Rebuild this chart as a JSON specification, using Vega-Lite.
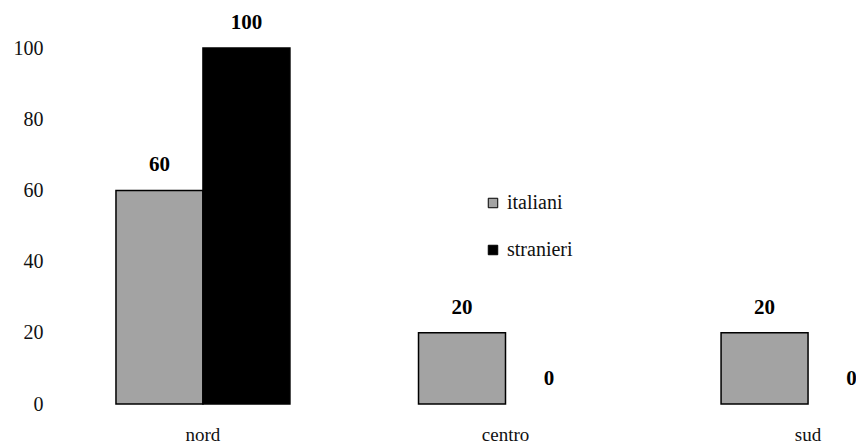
{
  "$schema": "https://vega.github.io/schema/vega-lite/v6.json",
  "autosize": "none",
  "padding": {"left": 60, "top": 48, "right": 0, "bottom": 44},
  "width": 796,
  "height": 356,
  "background": "white",
  "config": {
    "font": "Liberation Serif",
    "view": {"stroke": null},
    "axis": {"grid": false, "domain": false, "ticks": false, "labelColor": "#111", "labelFont": "Liberation Serif"}
  },
  "data": {
    "values": [
      {"zona": "nord", "gruppo": "italiani", "valore": 60},
      {"zona": "nord", "gruppo": "stranieri", "valore": 100},
      {"zona": "centro", "gruppo": "italiani", "valore": 20},
      {"zona": "centro", "gruppo": "stranieri", "valore": 0},
      {"zona": "sud", "gruppo": "italiani", "valore": 20},
      {"zona": "sud", "gruppo": "stranieri", "valore": 0}
    ]
  },
  "encoding": {
    "x": {
      "field": "zona", "type": "nominal", "sort": ["nord", "centro", "sud"],
      "scale": {"range": [0, 891], "paddingInner": 0.425, "paddingOuter": 0.185},
      "axis": {"title": null, "labelAngle": 0, "labelFontSize": 19, "labelPadding": 21}
    },
    "xOffset": {"field": "gruppo", "type": "nominal", "sort": ["italiani", "stranieri"], "scale": {"paddingInner": 0, "paddingOuter": 0}},
    "y": {
      "field": "valore", "type": "quantitative",
      "scale": {"domain": [0, 100], "nice": false},
      "axis": {"title": null, "values": [0, 20, 40, 60, 80, 100], "labelFontSize": 20, "labelPadding": 17}
    }
  },
  "layer": [
    {
      "mark": {"type": "bar", "stroke": "#000"},
      "encoding": {
        "color": {
          "field": "gruppo", "type": "nominal",
          "scale": {"domain": ["italiani", "stranieri"], "range": ["#a3a3a3", "#000000"]},
          "legend": {
            "title": null, "orient": "none", "legendX": 423, "legendY": 145,
            "padding": 0, "symbolType": "square", "symbolSize": 90,
            "symbolStrokeColor": "#000", "symbolStrokeWidth": 1,
            "labelFont": "Liberation Serif", "labelFontSize": 20, "labelColor": "#111",
            "labelOffset": 4, "rowPadding": 27
          }
        },
        "strokeWidth": {"condition": {"test": "datum.valore > 0", "value": 1.5}, "value": 0}
      }
    },
    {
      "mark": {"type": "text", "baseline": "alphabetic", "dy": -19, "fontWeight": "bold", "fontSize": 21, "font": "Liberation Serif", "color": "#000"},
      "encoding": {"text": {"field": "valore", "type": "quantitative"}}
    }
  ]
}
